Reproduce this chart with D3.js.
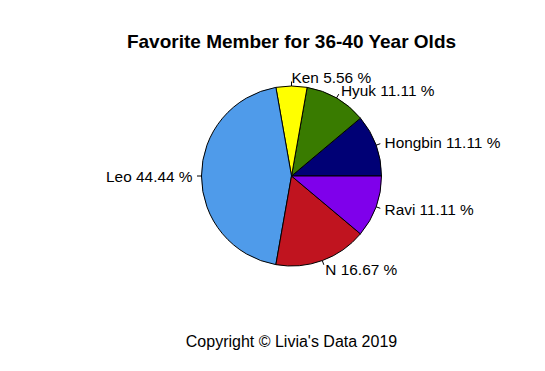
<!DOCTYPE html>
<html><head><meta charset="utf-8">
<script src="https://cdn.jsdelivr.net/npm/d3@7"></script>
<style>body{margin:0;background:#fff}</style>
</head><body>
<script>
const categories = ["Hongbin", "Hyuk", "Ken", "Leo", "N", "Ravi"];
const values = [2, 2, 1, 8, 3, 2];
const percents = ["11.11", "11.11", "5.56", "44.44", "16.67", "11.11"];
const colors = ["#000075", "#397B00", "#FFFF00", "#4F9BEA", "#C0141F", "#7F00EB"];
const title = "Favorite Member for 36-40 Year Olds";
const caption = "Copyright \u00A9 Livia's Data 2019";

const W = 545, H = 371, cx = 291.5, cy = 176, r = 90;
const svg = d3.select("body").append("svg").attr("width", W).attr("height", H);
const font = "Liberation Sans, Arial, Helvetica, sans-serif";

// R-style pie: start at 3 o'clock, counter-clockwise
const total = d3.sum(values);
const angle = d3.scaleLinear().domain([0, total]).range([0, 2 * Math.PI]);
let cum = 0;
const slices = values.map((v, i) => { const s = { i, a0: angle(cum), a1: angle(cum + v) }; cum += v; return s; });
const toD3 = a => Math.PI / 2 - a;
const arc = d3.arc().innerRadius(0).outerRadius(r);
const g = svg.append("g").attr("transform", `translate(${cx},${cy})`);
g.selectAll("path").data(slices).join("path")
  .attr("d", d => arc({ startAngle: toD3(d.a1), endAngle: toD3(d.a0) }))
  .attr("fill", d => colors[d.i])
  .attr("stroke", "#000").attr("stroke-width", 1);

slices.forEach(d => {
  const m = (d.a0 + d.a1) / 2, c = Math.cos(m), s = -Math.sin(m);
  g.append("line").attr("x1", r * c).attr("y1", r * s).attr("x2", 1.05 * r * c).attr("y2", 1.05 * r * s)
    .attr("stroke", "#000").attr("stroke-width", 1);
  g.append("text").attr("x", 1.1 * r * c).attr("y", 1.1 * r * s).attr("dy", "0.36em")
    .attr("text-anchor", c > 0 ? "start" : "end")
    .attr("font-family", font).attr("font-size", 15.4).attr("fill", "#000")
    .text(`${categories[d.i]} ${percents[d.i]} %`);
});

svg.append("text").attr("x", cx).attr("y", 47.5).attr("text-anchor", "middle")
  .attr("font-family", font).attr("font-weight", "bold").attr("font-size", 19).text(title);
svg.append("text").attr("x", cx).attr("y", 346.5).attr("text-anchor", "middle")
  .attr("font-family", font).attr("font-size", 16).text(caption);
</script>
</body></html>
